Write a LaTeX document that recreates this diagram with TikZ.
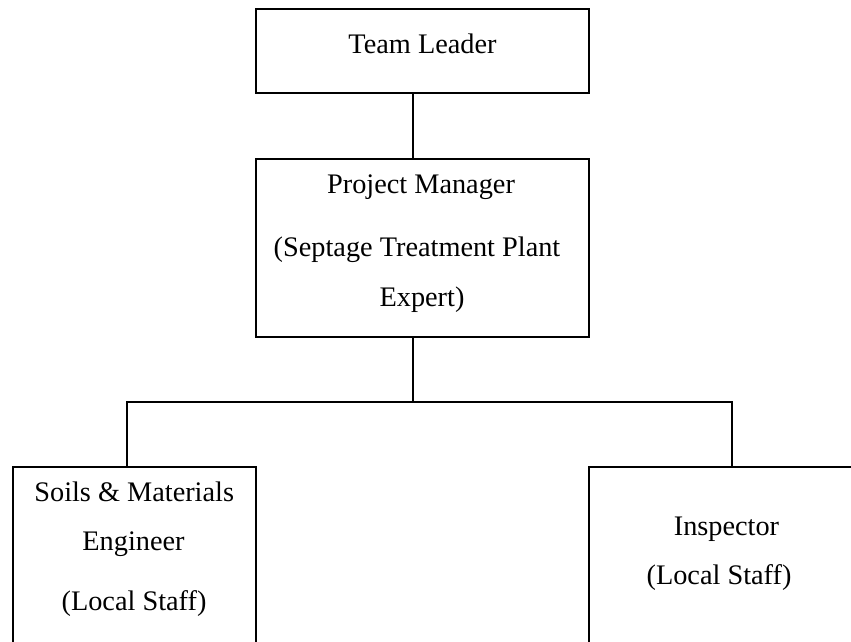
\documentclass[tikz,border=0pt]{standalone}
\usepackage{fontspec}
\setmainfont{Liberation Serif}
\begin{document}
\begin{tikzpicture}[x=1pt,y=-1pt,
  box/.style={draw=black,line width=1.8pt,inner sep=0pt,fill=none},
  lbl/.style={anchor=base,inner sep=0pt,font=\fontsize{28.3}{34}\selectfont},
  conn/.style={draw=black,line width=1.8pt}]
\useasboundingbox (0,0) rectangle (851,642);
\clip (0,0) rectangle (851,642);
% boxes
\node[box,minimum width=333pt,minimum height=84pt] (TL) at (422.6,51) {};
\node[box,minimum width=333pt,minimum height=178pt] (PM) at (422.6,248) {};
\node[box,minimum width=243.3pt,minimum height=233pt] (SM) at (134.3,583.5) {};
\node[box,minimum width=270.7pt,minimum height=233pt] (IN) at (724.65,583.5) {};
% texts
\node[lbl] (tTL) at (422.5,54) {Team Leader};
\node[lbl] (tPM1) at (421,193) {Project Manager};
\node[lbl] (tPM2) at (417,256.7) {(Septage Treatment Plant};
\node[lbl] (tPM3) at (422,306.7) {Expert)};
\node[lbl] (tSM1) at (134.2,501.7) {Soils \& Materials};
\node[lbl] (tSM2) at (133.5,550) {Engineer};
\node[lbl] (tSM3) at (134,610) {(Local Staff)};
\node[lbl] (tIN1) at (726.5,535) {Inspector};
\node[lbl] (tIN2) at (719,584) {(Local Staff)};
% connectors
\coordinate (c1) at (412.7,0);
\coordinate (jn) at (412.7,401.7);
\coordinate (bl) at (126.7,401.7);
\coordinate (br) at (731.7,401.7);
\draw[conn] (TL.south -| c1) -- (PM.north -| c1);
\draw[conn] (PM.south -| jn) -- (jn);
\draw[conn] (SM.north -| bl) -- (bl) -- (br) -- (IN.north -| br);
\end{tikzpicture}
\end{document}
